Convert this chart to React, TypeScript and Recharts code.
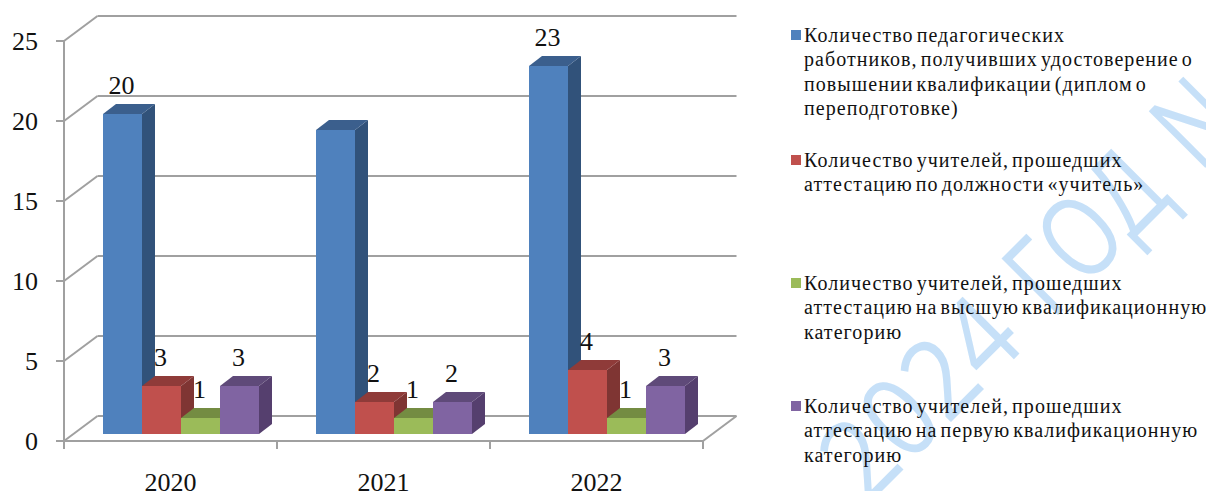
import { Bar, BarChart, CartesianGrid, LabelList, Legend, XAxis, YAxis } from "recharts";

const years = ["2020", "2021", "2022"];
const certificates = [20, 19, 23];
const teacherPost = [3, 2, 4];
const highestCategory = [1, 1, 1];
const firstCategory = [3, 2, 3];
const valueTicks = [0, 5, 10, 15, 20, 25];

const legendLines = [
  [
    "Количество педагогических",
    "работников, получивших удостоверение о",
    "повышении квалификации (диплом о",
    "переподготовке)",
  ],
  ["Количество учителей, прошедших", "аттестацию по должности «учитель»"],
  ["Количество учителей, прошедших", "аттестацию на высшую квалификационную", "категорию"],
  ["Количество учителей, прошедших", "аттестацию на первую квалификационную", "категорию"],
];

const frontColors = ["#4f81bd", "#c0504d", "#9bbb59", "#8064a2"];
const topColors = ["#3b5f8d", "#8f3b39", "#748c42", "#5f4a79"];
const sideColors = ["#31527a", "#7f3533", "#65793a", "#553f6e"];

const tableData = years.map((year, i) => ({
  year,
  certificates: certificates[i],
  teacherPost: teacherPost[i],
  highestCategory: highestCategory[i],
  firstCategory: firstCategory[i],
}));

const seriesKeys = ["certificates", "teacherPost", "highestCategory", "firstCategory"];

const serif = "'Liberation Serif', serif";
const gridColor = "#a0a0a0";
const plotBottom = 441;
const plotWidth = 639;
const depthX = 33.5;
const depthY = 25;

// the bars stand a little inside the floor, so they are moved off the front edge
const barShiftX = 10;
const barShiftY = -7;
const faceX = 13;
const faceY = 10;

function WallLine(props: any) {
  const { x1, x2, y1 } = props;
  return (
    <g>
      <line x1={x1} y1={y1} x2={x1 + depthX} y2={y1 - depthY} stroke={gridColor} strokeWidth={2} />
      <line x1={x1 + depthX} y1={y1 - depthY} x2={x2 + depthX} y2={y1 - depthY} stroke={gridColor} strokeWidth={2} />
      {y1 === plotBottom && (
        <line x1={x2} y1={y1} x2={x2 + depthX} y2={y1 - depthY} stroke={gridColor} strokeWidth={2} />
      )}
    </g>
  );
}

function makeBox(index: number) {
  return function Box(props: any) {
    const left = props.x + barShiftX;
    const top = props.y + barShiftY;
    const { width, height } = props;
    const right = left + width;
    const bottom = top + height;
    return (
      <g>
        <polygon
          points={`${right},${top} ${right + faceX},${top - faceY} ${right + faceX},${bottom - faceY} ${right},${bottom}`}
          fill={sideColors[index]}
        />
        <polygon
          points={`${left},${top} ${left + faceX},${top - faceY} ${right + faceX},${top - faceY} ${right},${top}`}
          fill={topColors[index]}
        />
        <rect x={left} y={top} width={width} height={height} fill={frontColors[index]} />
      </g>
    );
  };
}

function BoxLabel(props: any) {
  const { x, y, width, value } = props;
  // the 2021 blue bar has no label in the reference
  if (value === 19) return null;
  return (
    <text
      x={x + barShiftX + width / 2 - 1}
      y={y + barShiftY - 20}
      textAnchor="middle"
      fontFamily={serif}
      fontSize={26}
      fill="#111"
    >
      {value}
    </text>
  );
}

function YearTick(props: any) {
  const { x, index, payload } = props;
  const band = plotWidth / years.length;
  return (
    <g>
      <line x1={x - band / 2} y1={plotBottom} x2={x - band / 2} y2={plotBottom + 8} stroke={gridColor} strokeWidth={2} />
      {index === years.length - 1 && (
        <line x1={x + band / 2} y1={plotBottom} x2={x + band / 2} y2={plotBottom + 8} stroke={gridColor} strokeWidth={2} />
      )}
      <text x={x} y={491} textAnchor="middle" fontFamily={serif} fontSize={26} fill="#111">
        {payload.value}
      </text>
    </g>
  );
}

const legendTops = [23, 148, 271, 394];

function LegendBlock(props: any) {
  const { payload } = props;
  return (
    <div style={{ position: "relative", width: 416, height: 491 }}>
      {(payload || []).map((entry: any, i: number) => (
        <div key={i} style={{ position: "absolute", left: 1, top: legendTops[i], whiteSpace: "nowrap" }}>
          <div style={{ position: "absolute", left: 0, top: 7, width: 10, height: 10, background: entry.color }} />
          <div
            style={{
              marginLeft: 13,
              fontFamily: serif,
              fontSize: 20,
              letterSpacing: 1.05,
              wordSpacing: -3,
              lineHeight: "24.4px",
              color: "#111",
            }}
          >
            {legendLines[i].map((line) => (
              <div key={line}>{line}</div>
            ))}
          </div>
        </div>
      ))}
    </div>
  );
}

export default function App() {
  return (
    <div style={{ position: "absolute", left: 0, top: 0, width: 1206, height: 491, overflow: "hidden", background: "#fff" }}>
      <svg width={1206} height={491} style={{ position: "absolute", left: 0, top: 0 }}>
        <text
          transform="translate(867 506) rotate(-45) scale(0.89 1)"
          fontFamily="'Open Sans', sans-serif"
          fontSize={112}
          fill="#c6e0f8"
        >
          2024
        </text>
        <text
          transform="translate(1052 321) rotate(-45) scale(0.78 1)"
          fontFamily="'Open Sans', sans-serif"
          fontSize={112}
          fill="#c6e0f8"
        >
          ГОД <tspan dx={16}>N</tspan>
        </text>
      </svg>
      <div style={{ position: "absolute", left: 0, top: 0 }}>
        <BarChart
          width={1206}
          height={491}
          data={tableData}
          barCategoryGap={29}
          barGap={0}
          margin={{ top: 41, right: 87, bottom: 0, left: 0 }}
        >
          <CartesianGrid vertical={false} horizontal={WallLine} />
          <XAxis
            dataKey="year"
            height={50}
            axisLine={{ stroke: gridColor, strokeWidth: 2 }}
            tickLine={false}
            tick={YearTick}
            interval={0}
          />
          <YAxis
            width={64}
            domain={[0, 25]}
            ticks={valueTicks}
            interval={0}
            axisLine={{ stroke: gridColor, strokeWidth: 2 }}
            tickLine={{ stroke: gridColor, strokeWidth: 2 }}
            tickSize={8}
            tickMargin={18}
            tick={{ fontFamily: serif, fontSize: 26, fill: "#111" }}
          />
          <Legend
            layout="vertical"
            align="right"
            verticalAlign="top"
            width={416}
            height={491}
            itemSorter={null}
            wrapperStyle={{ top: 0, right: 0 }}
            content={LegendBlock}
          />
          {seriesKeys.map((key, i) => (
            <Bar
              key={key}
              dataKey={key}
              name={legendLines[i].join(" ")}
              fill={frontColors[i]}
              shape={makeBox(i)}
              isAnimationActive={false}
            >
              <LabelList dataKey={key} content={BoxLabel} />
            </Bar>
          ))}
        </BarChart>
      </div>
    </div>
  );
}
